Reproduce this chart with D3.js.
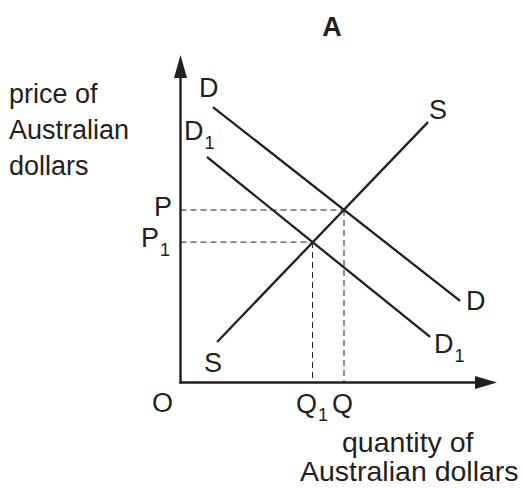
<!DOCTYPE html>
<html>
<head>
<meta charset="utf-8">
<script src="https://cdn.jsdelivr.net/npm/d3@7"></script>
<style>
  html, body { margin: 0; padding: 0; background: #fff; }
  svg { display: block; }
  text { font-family: "Liberation Sans", Arial, Helvetica, sans-serif; fill: #231f20; }
</style>
</head>
<body>
<svg id="chart" width="524" height="489"></svg>
<script>
// Foreign exchange market for Australian dollars: supply and demand shift.
const demandD  = [[10.8, 91.8], [93.2, 27.2]];
const demandD1 = [[8.8, 75.2], [83.2, 15.2]];
const supplyS  = [[12.2, 13.5], [82.5, 86.8]];
const priceP = 57.5, priceP1 = 46.8;
const qtyQ = 54.5, qtyQ1 = 44;

const ink = "#231f20";
const svg = d3.select("#chart");

const x = d3.scaleLinear().domain([0, 100]).range([180.5, 480.5]);
const y = d3.scaleLinear().domain([0, 100]).range([382.5, 82.5]);
const line = d3.line().x(d => x(d[0])).y(d => y(d[1]));

// Title
svg.append("text").attr("x", 332).attr("y", 36)
  .attr("text-anchor", "middle").attr("font-weight", "bold").attr("font-size", 27)
  .text("A");

// Axes with arrowheads
const x0 = x(0), y0 = y(0);
svg.append("line").attr("x1", x0).attr("y1", y0 + 1).attr("x2", x0).attr("y2", 70)
  .attr("stroke", ink).attr("stroke-width", 2.4);
svg.append("path").attr("d", `M${x0},55 L${x0 - 6.5},78 L${x0 + 6.5},78 Z`).attr("fill", ink);
svg.append("line").attr("x1", x0 - 1).attr("y1", y0).attr("x2", 485).attr("y2", y0)
  .attr("stroke", ink).attr("stroke-width", 2.4);
svg.append("path").attr("d", `M497,${y0} L475,${y0 - 6.5} L475,${y0 + 6.5} Z`).attr("fill", ink);

// Dashed guides to the equilibria
const guides = [[qtyQ, priceP], [qtyQ1, priceP1]];
guides.forEach(([q, p]) => {
  svg.append("line").attr("x1", x(0)).attr("y1", y(p)).attr("x2", x(q)).attr("y2", y(p))
    .attr("stroke", ink).attr("stroke-width", 1).attr("stroke-dasharray", "6,4");
  svg.append("line").attr("x1", x(q)).attr("y1", y(p)).attr("x2", x(q)).attr("y2", y(0))
    .attr("stroke", ink).attr("stroke-width", 1).attr("stroke-dasharray", "6,4");
});

// Curves
[demandD, demandD1, supplyS].forEach(pts => {
  svg.append("path").attr("d", line(pts)).attr("fill", "none")
    .attr("stroke", ink).attr("stroke-width", 2.3);
});

// Labels
const fs = 27, sub = 18;
function label(tx, ty, main, subscript, dy) {
  const t = svg.append("text").attr("x", tx).attr("y", ty).attr("font-size", fs);
  t.append("tspan").text(main);
  if (subscript) {
    t.append("tspan").attr("font-size", sub).attr("dx", 1).attr("dy", dy || 9).text(subscript);
  }
}
label(199, 97, "D");
label(184, 140, "D", "1");
label(429, 119, "S");
label(466, 310, "D");
label(434, 353, "D", "1");
label(204, 372, "S");
label(152, 412, "O");
label(296, 413, "Q", "1", 8);
label(332, 413, "Q");
label(154, 216, "P");
label(141, 247, "P", "1");

// Axis titles
const yTitle = ["price of", "Australian", "dollars"];
yTitle.forEach((s, i) => {
  svg.append("text").attr("x", 9).attr("y", 103 + i * 36).attr("font-size", fs).text(s);
});
svg.append("text").attr("x", 342).attr("y", 452)
  .attr("font-size", 28.5).text("quantity of");
svg.append("text").attr("x", 300).attr("y", 481)
  .attr("font-size", 28.5).text("Australian dollars");
</script>
</body>
</html>
